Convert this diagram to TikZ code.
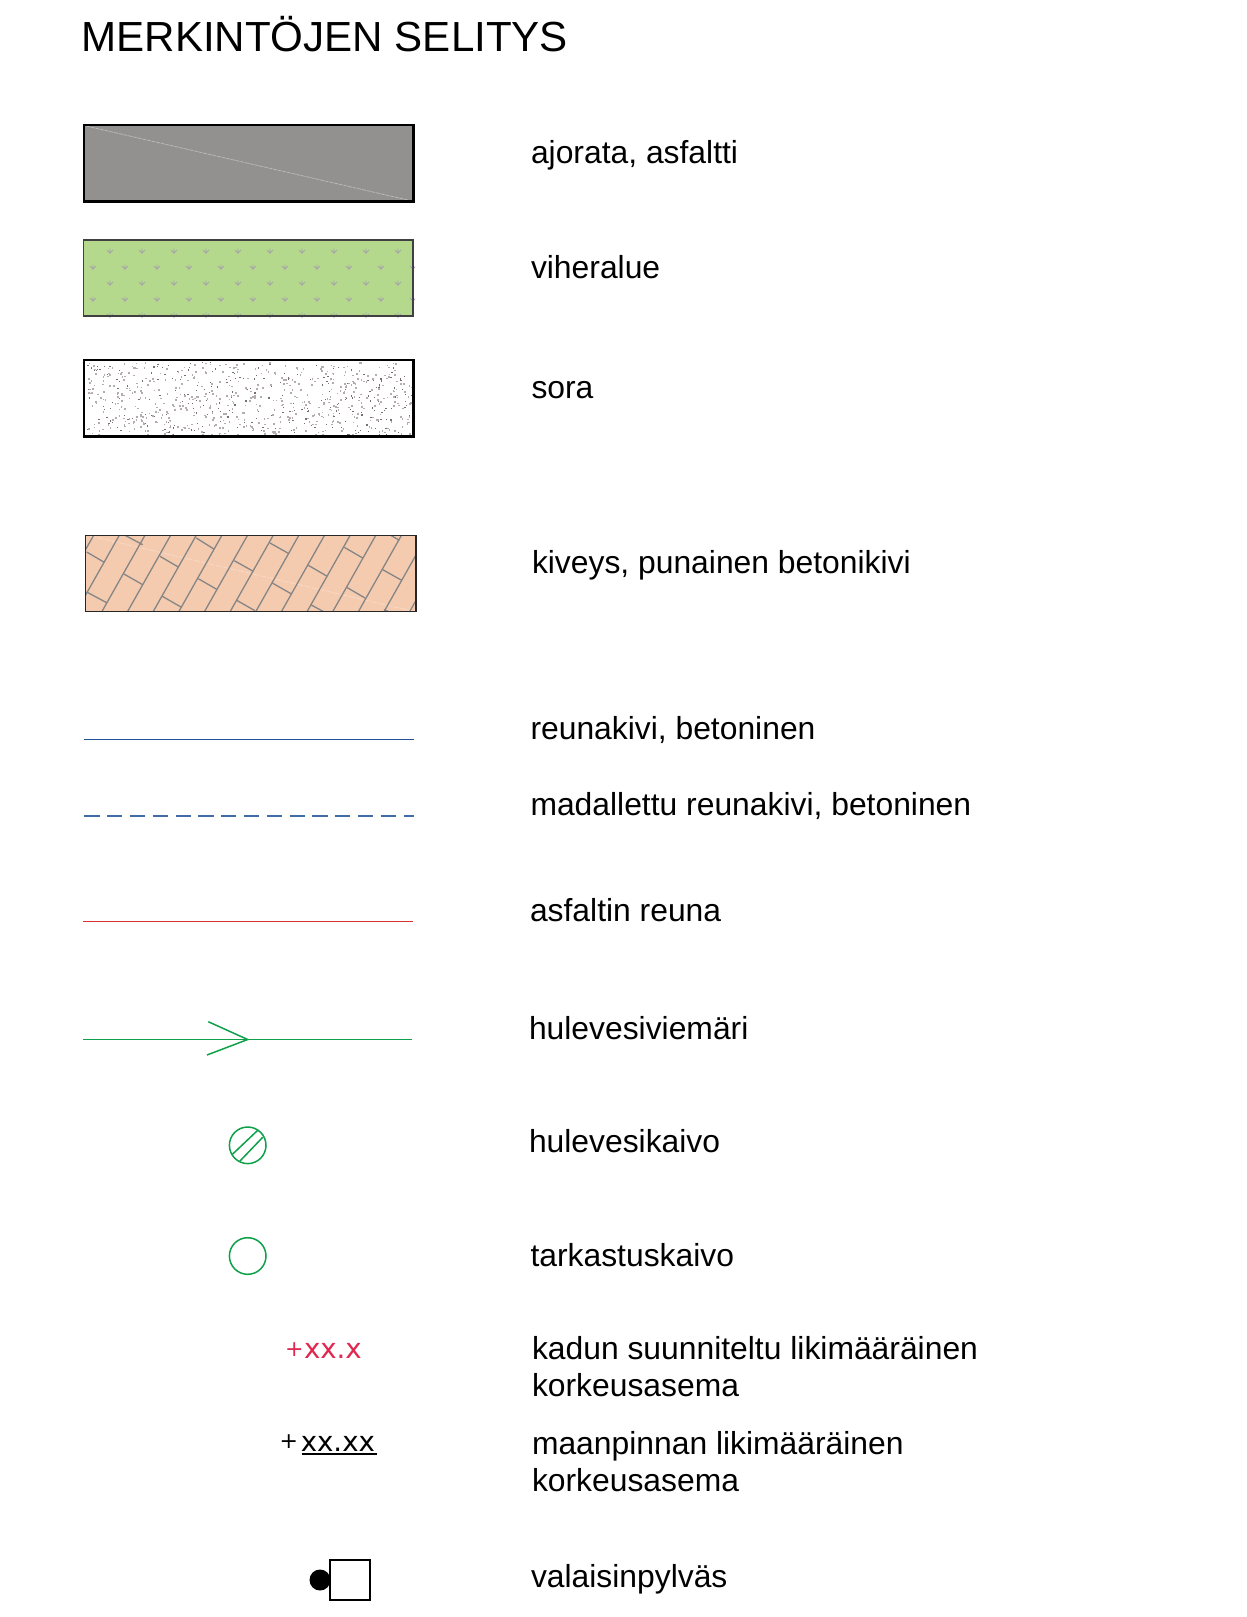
\documentclass[tikz,border=0pt]{standalone}
\usepackage{fontspec}
\setmainfont{Liberation Sans}
\newfontfamily\dejavu{DejaVu Sans}
\definecolor{asphalt}{HTML}{92918F}
\definecolor{grass}{HTML}{B5D98C}
\definecolor{tuft}{HTML}{A8A2AD}
\definecolor{paver}{HTML}{F5CBB0}
\definecolor{paverline}{HTML}{858585}
\definecolor{curb}{HTML}{1F5299}
\definecolor{edgered}{HTML}{D8302E}
\definecolor{drain}{HTML}{0FA04A}
\definecolor{levelred}{HTML}{E0274F}
\definecolor{dotdark}{HTML}{7A6F70}
\definecolor{dotlight}{HTML}{B5ADAD}
\tikzset{
  x=0.5pt,y=-0.5pt,
  every node/.style={inner sep=0pt,outer sep=0pt},
  legendtext/.style={anchor=base west,align=left,font=\fontsize{15.92}{18.3}\selectfont},
  titletext/.style={anchor=base west,font=\fontsize{21.05}{24}\selectfont},
  levelnum/.style={anchor=base west,font=\dejavu\fontsize{13.8}{16}\selectfont},
  levelplus/.style={anchor=base west,font=\dejavu\fontsize{11}{12}\selectfont},
  tuftline/.style={draw=tuft,line width=0.4pt},
  pipe/.style={draw=drain,line width=0.75pt},
}
\newcommand{\tuftat}[2]{%
  \draw[tuftline] (#1,#2-2.5)--(#1,#2+3) (#1-3,#2-1)--(#1,#2+2) (#1+3,#2-1)--(#1,#2+2);}
\begin{document}
\begin{tikzpicture}
\useasboundingbox (0,0) rectangle (1247,1617);
\fill[white] (0,0) rectangle (1247,1617);
\node[titletext] (title) at (81.5,51.7) {MERKINTÖJEN SELITYS};

% asphalt
\fill[asphalt] (84,125) rectangle (413.5,201.5);
\draw[white!35!asphalt,line width=0.4pt,dash pattern=on 2pt off 0.4pt] (86,126) -- (410,200.5);
\draw[black,line width=1.2pt] (84,125) rectangle (413.5,201.5);

% grass
\fill[grass] (83.5,240) rectangle (413,316);
\begin{scope}
\clip (83.5,236) rectangle (415,318);
\foreach \r in {251,283,315}{\foreach \c in {0,...,9}{\tuftat{110+32*\c}{\r}}}
\foreach \r in {267,299}{\foreach \c in {0,...,10}{\tuftat{93+32*\c}{\r}}}
\end{scope}
\draw[black!75,line width=0.65pt] (83.5,240) rectangle (413,316);

% gravel
\pgfmathsetseed{4711}
\fill[white] (84,360) rectangle (413.5,436.5);
\foreach \i in {1,...,260}{
  \pgfmathsetmacro{\gx}{86+rnd*326}\pgfmathsetmacro{\gy}{362+rnd*73}
  \fill[dotdark] (\gx,\gy) rectangle (\gx+1.2,\gy+1.2);}
\foreach \i in {1,...,560}{
  \pgfmathsetmacro{\gx}{86+rnd*326}\pgfmathsetmacro{\gy}{362+rnd*73}
  \fill[dotlight] (\gx,\gy) rectangle (\gx+1.6,\gy+1.6);}
\draw[black,line width=1.2pt] (84,360) rectangle (413.5,436.5);

% pavers
\fill[paver] (85.7,535.3) rectangle (416,611.5);
\begin{scope}
\clip (85.7,535.3) rectangle (416,611.5);
\draw[white!30!paver,line width=0.35pt,dash pattern=on 3pt off 0.8pt] (90,536) -- (412,611);
\foreach \k in {-1,0,...,13}{
  \draw[paverline,line width=0.65pt] (119.3+25.65*\k,535.3) -- ++(-43,76.2);}
\foreach \a/\b/\c/\d in {
  86.7/552/104.3/562.3,125/535.3/142.7/544.7,86.7/592/106.7/602.7,124/574/142.7/584.7,
  160/556.3/178.3/567,196.3/538/214.3/549.3,162.3/596.3/181/607,198.3/578.7/216.7/589.3,
  234.3/560.7/253.3/571.3,236.7/600.3/255/610.7,270/543/289/553.7,272.3/583/291/593.7,
  308.3/565.3/326.7/576,344.3/547.3/362.7/558,310.7/604.7/323.3/611.5,346.7/587.3/365/598,
  382.7/569.7/401.7/580.3,390.7/535.3/399.3/540.3,384/609.7/388.3/611.5}{
  \draw[paverline,line width=0.65pt] (\a,\b) -- (\c,\d);}
\end{scope}
\draw[black!85,line width=0.75pt] (85.7,535.3) rectangle (416,611.5);

% lines
\draw[curb,line width=0.8pt] (84.3,739.5) -- (414,739.5);
\draw[curb!85!white,line width=0.8pt,dash pattern=on 7.65pt off 3.75pt] (84.3,815.7) -- (414,815.7);
\draw[edgered,line width=0.7pt] (83,921.5) -- (413,921.5);

% storm drain
\coordinate (pipeA) at (83,1039.5);
\coordinate (pipeB) at (412,1039.5);
\coordinate (tip) at (247.7,1039.5);
\coordinate (barbA) at (208.3,1021.7);
\coordinate (barbB) at (207,1055);
\draw[pipe] (pipeA) -- (pipeB);
\draw[pipe] (barbA) -- (tip) -- (barbB);

% wells
\draw[pipe] (247.7,1145.3) circle[radius=18.3];
\draw[pipe] (232.7,1154) -- (257.3,1130.7);
\draw[pipe] (240,1161) -- (262.7,1137.3);
\draw[pipe] (247.7,1256) circle[radius=18.3];

% levels
\node[levelplus,text=levelred] (planplus) at (285.2,1356.5) {+};
\node[levelnum,text=levelred] (planlevel) at (304,1358.7) {xx.x};
\node[levelplus] (groundplus) at (279.7,1448) {+};
\node[levelnum] (groundlevel) at (300.8,1451) {xx.xx};
\draw[black,line width=0.7pt] (301.5,1454) -- (377,1454);

% lamp
\draw[black,line width=0.75pt] (330,1560) rectangle (370,1600);
\fill[black] (320,1580) circle[radius=10.5];

% labels
\node[legendtext] (l1) at (531,163.5) {ajorata, asfaltti};
\node[legendtext] (l2) at (531,278) {viheralue};
\node[legendtext] (l3) at (531.5,398) {sora};
\node[legendtext] (l4) at (532,573) {kiveys, punainen betonikivi};
\node[legendtext] (l5) at (530.5,739) {reunakivi, betoninen};
\node[legendtext] (l6) at (530.5,815) {madallettu reunakivi, betoninen};
\node[legendtext] (l7) at (530,921.5) {asfaltin reuna};
\node[legendtext] (l8) at (529,1039) {hulevesiviemäri};
\node[legendtext] (l9) at (529,1152.5) {hulevesikaivo};
\node[legendtext] (l10) at (530.5,1266) {tarkastuskaivo};
\node[legendtext] (l11) at (532,1396.5) {kadun suunniteltu likimääräinen\\korkeusasema};
\node[legendtext] (l12) at (532,1491) {maanpinnan likimääräinen\\korkeusasema};
\node[legendtext] (l13) at (531,1587) {valaisinpylväs};
\end{tikzpicture}
\end{document}
